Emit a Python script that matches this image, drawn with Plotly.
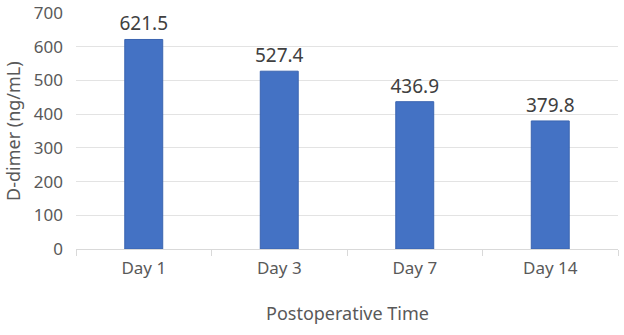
import plotly.graph_objects as go

days = ["Day 1", "Day 3", "Day 7", "Day 14"]
d_dimer = [621.5, 527.4, 436.9, 379.8]
y_ticks = [0, 100, 200, 300, 400, 500, 600, 700]

font = "Noto Sans, Open Sans, sans-serif"
grey = "#595959"

fig = go.Figure()
fig.add_trace(go.Bar(
    x=days,
    y=d_dimer,
    width=0.28,
    marker=dict(color="#4472C4", line=dict(color="#3A64B0", width=1)),
    text=[f"{v:.1f}" for v in d_dimer],
    textposition="outside",
    constraintext="none",
    textfont=dict(family=font, size=19, color="#404040"),
    cliponaxis=False,
))

fig.update_layout(
    width=624,
    height=335,
    margin=dict(l=76, r=6, t=13, b=86),
    plot_bgcolor="white",
    paper_bgcolor="white",
    showlegend=False,
    font=dict(family=font, color=grey),
)
fig.update_xaxes(
    automargin=False,
    tickfont=dict(size=17, color=grey),
    ticklabelstandoff=4,
    showline=True,
    linecolor="#D9D9D9",
    linewidth=1,
    ticks="outside",
    tickson="boundaries",
    ticklen=6,
    tickcolor="#D9D9D9",
    showgrid=False,
)
fig.update_yaxes(
    automargin=False,
    tickfont=dict(size=17, color=grey),
    ticklabelstandoff=12,
    range=[0, 700],
    tickvals=y_ticks,
    showgrid=True,
    gridcolor="#E3E3E3",
    gridwidth=1,
    zeroline=False,
    ticks="",
)

# axis titles
fig.add_annotation(
    text="Postoperative Time", xref="paper", yref="paper", x=0.5, y=0,
    xanchor="center", yanchor="middle", yshift=-64, showarrow=False,
    font=dict(size=18, color=grey),
)
fig.add_annotation(
    text="D-dimer (ng/mL)", xref="paper", yref="paper", x=0, y=0.5,
    xanchor="center", yanchor="middle", xshift=-63, textangle=-90, showarrow=False,
    font=dict(size=18, color=grey),
)

# drop the default 8px body margin so the figure sits at the window's corner
fig.write_html(
    "out.html",
    config={"displayModeBar": False},
    post_script="document.body.style.margin = '0';",
)
